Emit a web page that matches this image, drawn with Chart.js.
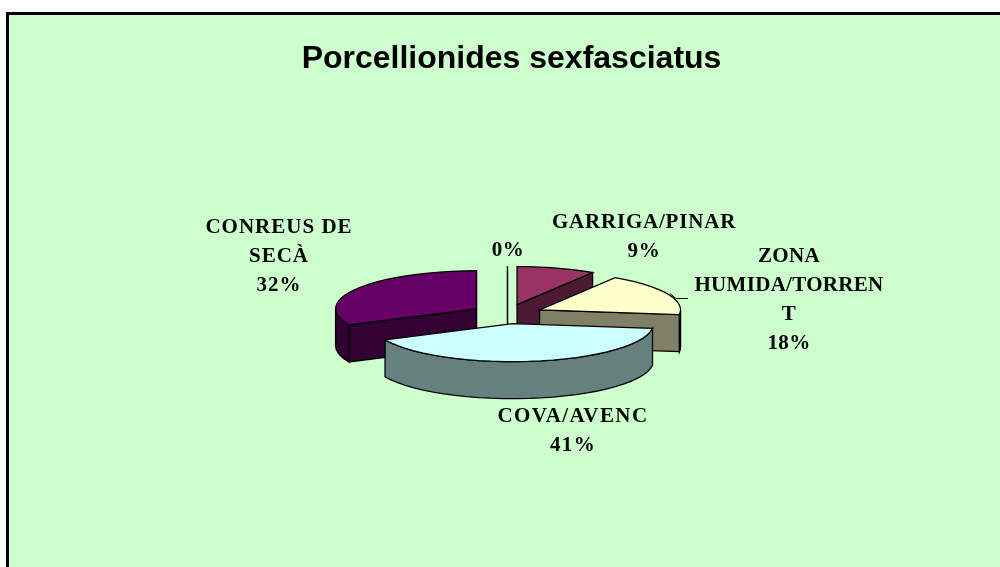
<!DOCTYPE html>
<html><head><meta charset="utf-8">
<style>html,body{margin:0;padding:0;background:#fff}canvas{display:block}</style>
<script src="https://cdn.jsdelivr.net/npm/chart.js@4"></script></head>
<body><canvas id="c" width="1000" height="567" style="width:1000px;height:567px"></canvas>
<script>
const categories = ['GARRIGA/PINAR','ZONA HUMIDA/TORRENT','COVA/AVENC','CONREUS DE SECÀ',''];
const values = [9,18,41,32,0.001];
const labelLines = [['GARRIGA/PINAR','9%'],['ZONA','HUMIDA/TORREN','T','18%'],['COVA/AVENC','41%'],['CONREUS DE','SECÀ','32%'],['0%']];
const topColors = ['#993366','#FFFFCC','#CCFFFF','#660066','#FFFFFF'];
const sideColors = ['#4D1A33','#808066','#668080','#330033','#808080'];

const CX=507, CY=314, K=0.27, DEPTH=37, EXPLODE=36;
const labelAnchors=[[644,223],[789,257],[573,417],[279,228],[508,251]];
const labelSpacing=[0.8,0.3,1.4,1.0,0.6];
const drawOrder=[4,0,3,1,2];

function proj(arc,th,r,dz){
  const m=(arc.startAngle+arc.endAngle)/2;
  return [CX+Math.cos(m)*EXPLODE+Math.cos(th)*r, CY+(Math.sin(m)*EXPLODE+Math.sin(th)*r)*K+dz];
}
function face(ctx,pts,fill){
  ctx.beginPath();pts.forEach((p,i)=>i?ctx.lineTo(p[0],p[1]):ctx.moveTo(p[0],p[1]));ctx.closePath();
  ctx.fillStyle=fill;ctx.fill();ctx.strokeStyle='#000';ctx.lineWidth=1.3;ctx.stroke();
}
function arcPts(arc,a,b,dz){
  const n=Math.max(1,Math.ceil((b-a)/0.09)),out=[];
  for(let i=0;i<=n;i++){out.push(proj(arc,a+(b-a)*i/n,arc.outerRadius,dz));}
  return out;
}
const pie3d={id:'pie3d',
  beforeDraw(chart){
    const c=chart.ctx;c.save();
    c.fillStyle='#fff';c.fillRect(0,0,1000,567);
    c.fillStyle='#000';c.fillRect(6,12,994,555);
    c.fillStyle='#CCFFCC';c.fillRect(9,15,991,552);
    c.restore();
  },
  beforeDatasetsDraw(chart){
    const ctx=chart.ctx, arcs=chart.getDatasetMeta(0).data;
    drawOrder.forEach(i=>{
      const arc=arcs[i], s=arc.startAngle, e=arc.endAngle, side=sideColors[i], R=arc.outerRadius;
      const apexT=proj(arc,0,0,0), apexB=proj(arc,0,0,DEPTH);
      ctx.save();
      if(e-s<0.01){
        ctx.strokeStyle='#000';ctx.lineWidth=1.5;ctx.beginPath();
        const p=proj(arc,s,R,0);ctx.moveTo(p[0]+.5,p[1]);ctx.lineTo(p[0]+.5,apexB[1]);ctx.stroke();
        ctx.restore();return;
      }
      if(Math.cos(s)<0){const a=proj(arc,s,R,0),b=proj(arc,s,R,DEPTH);face(ctx,[apexT,a,b,apexB],side);}
      if(Math.cos(e)>0){const a=proj(arc,e,R,0),b=proj(arc,e,R,DEPTH);face(ctx,[apexT,a,b,apexB],side);}
      const a0=Math.max(s,0),b0=Math.min(e,Math.PI);
      if(b0>a0){face(ctx,arcPts(arc,a0,b0,0).concat(arcPts(arc,a0,b0,DEPTH).reverse()),side);}
      // top face drawn by the library's own arc element, squashed into perspective
      ctx.translate(apexT[0],apexT[1]);ctx.scale(1,K);ctx.translate(-arc.x,-arc.y);
      arc.draw(ctx);
      ctx.restore();
      ctx.save();
      const top=[apexT].concat(arcPts(arc,s,e,0));
      ctx.beginPath();top.forEach((p,j)=>j?ctx.lineTo(p[0],p[1]):ctx.moveTo(p[0],p[1]));ctx.closePath();
      ctx.strokeStyle='#000';ctx.lineWidth=1.3;ctx.stroke();
      ctx.restore();
    });
    return false;
  },
  afterDraw(chart){
    const ctx=chart.ctx;ctx.save();
    ctx.strokeStyle='#000';ctx.lineWidth=1;ctx.beginPath();ctx.moveTo(670,293.5);ctx.lineTo(676,298.5);ctx.lineTo(688,298.5);ctx.stroke();
    ctx.fillStyle='#000';ctx.textAlign='center';ctx.textBaseline='middle';
    ctx.font='bold 21px "Liberation Serif"';
    labelLines.forEach((ls,i)=>{
      ctx.letterSpacing=labelSpacing[i]+'px';
      ls.forEach((t,j)=>ctx.fillText(t,labelAnchors[i][0],labelAnchors[i][1]+j*28.7));
    });
    ctx.restore();
  }
};
new Chart(document.getElementById('c'),{
  type:'pie',
  data:{labels:categories,datasets:[{data:values,backgroundColor:topColors,borderWidth:0,offset:0,radius:141}]},
  options:{responsive:false,animation:false,maintainAspectRatio:false,
    layout:{padding:{left:23}},
    plugins:{legend:{display:false},tooltip:{enabled:false},
      title:{display:true,text:'Porcellionides sexfasciatus',color:'#000',font:{family:'"Liberation Sans"',size:32,weight:'bold'},padding:{top:40,bottom:8}}}
  },
  plugins:[pie3d]
});
</script></body></html>
